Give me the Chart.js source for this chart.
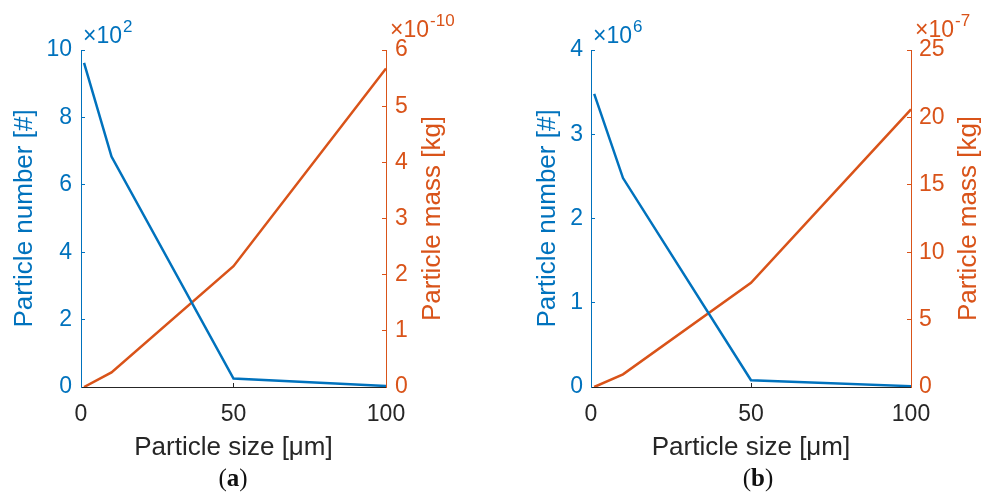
<!DOCTYPE html>
<html>
<head>
<meta charset="utf-8">
<script src="https://cdn.jsdelivr.net/npm/chart.js@4/dist/chart.umd.min.js"></script>
<style>
html, body { margin: 0; padding: 0; background: #fff; }
#wrap { position: relative; width: 982px; height: 492px; overflow: hidden; }
.panel { position: absolute; top: 0; width: 491px; height: 492px; }
</style>
</head>
<body>
<div id="wrap">
  <div class="panel" style="left:0"><canvas id="chartA" width="491" height="492"></canvas></div>
  <div class="panel" style="left:491px"><canvas id="chartB" width="491" height="492"></canvas></div>
</div>
<script>
"use strict";

// particle size classes [um]
var sizes = [1, 10, 50, 100];
var sizeTicks = [0, 50, 100];

// (a) number in units of 10^2, mass in units of 10^-10 kg
var numberA = [9.62, 6.84, 0.25, 0.03];
var massA = [0, 0.26, 2.15, 5.67];
var numberTicksA = [0, 2, 4, 6, 8, 10];
var massTicksA = [0, 1, 2, 3, 4, 5, 6];

// (b) number in units of 10^6, mass in units of 10^-7 kg
var numberB = [3.48, 2.48, 0.08, 0.01];
var massB = [0, 0.94, 7.73, 20.6];
var numberTicksB = [0, 1, 2, 3, 4];
var massTicksB = [0, 5, 10, 15, 20, 25];

var BLUE = '#0072BD';
var ORANGE = '#D95319';
var DARK = '#262626';
var SANS = "'Liberation Sans', Arial, sans-serif";
var SERIF = "'Liberation Serif', 'Times New Roman', serif";

Chart.defaults.font.family = SANS;

// exponent labels ("x10^n"), right axis title (reads bottom-up like matlab) and the (a)/(b) captions
var decorPlugin = {
    id: 'decor',
    afterDraw: function (chart, args, opts) {
        var ctx = chart.ctx;
        var area = chart.chartArea;
        ctx.save();
        ctx.textAlign = 'left';
        ctx.textBaseline = 'alphabetic';

        drawExp(ctx, area.left + 2, 43, opts.leftExp, BLUE);
        drawExp(ctx, area.right + 4, 37, opts.rightExp, ORANGE);

        // right axis title
        ctx.save();
        ctx.translate(opts.rightTitleX, (area.top + area.bottom) / 2);
        ctx.rotate(-Math.PI / 2);
        ctx.textAlign = 'center';
        ctx.textBaseline = 'middle';
        ctx.fillStyle = ORANGE;
        ctx.font = '26px ' + SANS;
        ctx.fillText('Particle mass [kg]', 0, 0);
        ctx.restore();

        // caption: "(" regular, letter bold, ")" regular
        var size = 25;
        ctx.fillStyle = '#111';
        ctx.font = size + 'px ' + SERIF;
        var wl = ctx.measureText('(').width;
        var wr = ctx.measureText(')').width;
        ctx.font = 'bold ' + size + 'px ' + SERIF;
        var wm = ctx.measureText(opts.tag).width;
        var x = opts.tagX - (wl + wm + wr) / 2;
        ctx.font = size + 'px ' + SERIF;
        ctx.fillText('(', x, 486);
        ctx.font = 'bold ' + size + 'px ' + SERIF;
        ctx.fillText(opts.tag, x + wl, 486);
        ctx.font = size + 'px ' + SERIF;
        ctx.fillText(')', x + wl + wm, 486);
        ctx.restore();
    }
};

function drawExp(ctx, x, y, exp, color) {
    ctx.fillStyle = color;
    ctx.font = '23px ' + SANS;
    ctx.fillText('\u00d710', x, y);
    var w = ctx.measureText('\u00d710').width;
    ctx.font = '17px ' + SANS;
    ctx.fillText(exp, x + w + 1, y - 11);
}

function fixedTicks(values) {
    return function (scale) {
        scale.ticks = values.map(function (v) { return { value: v }; });
    };
}

function points(xs, ys) {
    return xs.map(function (x, i) { return { x: x, y: ys[i] }; });
}

function axisGrid(color) {
    return {
        display: true,
        drawOnChartArea: false,
        drawTicks: true,
        tickLength: -4,
        color: color
    };
}

function makePanel(canvas, p) {
    return new Chart(canvas.getContext('2d'), {
        type: 'line',
        data: {
            datasets: [{
                data: points(sizes, p.number),
                yAxisID: 'y',
                borderColor: BLUE,
                borderWidth: 2.5,
                pointRadius: 0,
                tension: 0,
                fill: false
            }, {
                data: points(sizes, p.mass),
                yAxisID: 'y2',
                borderColor: ORANGE,
                borderWidth: 2.5,
                pointRadius: 0,
                tension: 0,
                fill: false
            }]
        },
        options: {
            responsive: false,
            animation: false,
            layout: { padding: { top: 50, left: 0, right: 0, bottom: 0 } },
            plugins: {
                legend: { display: false },
                tooltip: { enabled: false },
                decor: {
                    leftExp: p.leftExp, rightExp: p.rightExp,
                    tag: p.tag, tagX: p.tagX, rightTitleX: p.rightTitleX
                }
            },
            scales: {
                x: {
                    type: 'linear',
                    position: 'bottom',
                    min: 0,
                    max: 100,
                    afterBuildTicks: fixedTicks(sizeTicks),
                    afterFit: function (s) { s.height = 105; },
                    grid: axisGrid(DARK),
                    border: { display: true, color: DARK, width: 1 },
                    ticks: { color: DARK, font: { size: 23 }, padding: 18, maxRotation: 0, autoSkip: false },
                    title: {
                        display: true,
                        text: 'Particle size [\u03bcm]',
                        color: DARK,
                        font: { size: 26, lineHeight: 1 },
                        padding: { top: 0, bottom: 31 }
                    }
                },
                y: {
                    type: 'linear',
                    position: 'left',
                    min: 0,
                    max: p.numberTicks[p.numberTicks.length - 1],
                    afterBuildTicks: fixedTicks(p.numberTicks),
                    afterFit: function (s) { s.width = p.leftW; },
                    grid: axisGrid(BLUE),
                    border: { display: true, color: BLUE, width: 1 },
                    ticks: { color: BLUE, font: { size: 23 }, padding: p.leftPad },
                    title: {
                        display: true,
                        text: 'Particle number [#]',
                        color: BLUE,
                        font: { size: 26, lineHeight: 1 },
                        padding: { top: p.leftTitlePad, bottom: 0 }
                    }
                },
                y2: {
                    type: 'linear',
                    position: 'right',
                    min: 0,
                    max: p.massTicks[p.massTicks.length - 1],
                    afterBuildTicks: fixedTicks(p.massTicks),
                    afterFit: function (s) { s.width = p.rightW; },
                    grid: axisGrid(ORANGE),
                    border: { display: true, color: ORANGE, width: 1 },
                    ticks: { color: ORANGE, font: { size: 23 }, padding: p.rightPad },
                    title: { display: false }
                }
            }
        },
        plugins: [decorPlugin]
    });
}

makePanel(document.getElementById('chartA'), {
    number: numberA, mass: massA,
    numberTicks: numberTicksA, massTicks: massTicksA,
    leftExp: '2', rightExp: '-10', tag: 'a', tagX: 233,
    leftW: 81, rightW: 105, leftPad: 13, rightPad: 13,
    leftTitlePad: 12, rightTitleX: 433
});

makePanel(document.getElementById('chartB'), {
    number: numberB, mass: massB,
    numberTicks: numberTicksB, massTicks: massTicksB,
    leftExp: '6', rightExp: '-7', tag: 'b', tagX: 267,
    leftW: 100, rightW: 71, leftPad: 12, rightPad: 12,
    leftTitlePad: 44, rightTitleX: 478
});
</script>
</body>
</html>
